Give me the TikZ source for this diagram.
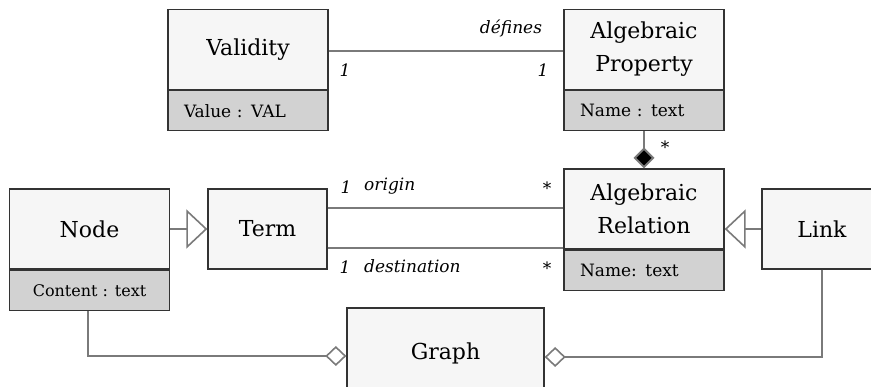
\documentclass[tikz,border=0pt]{standalone}
\usepackage{fontspec}
\setmainfont{DejaVu Serif}
\newfontfamily\boxfont{DejaVu Serif}
\usetikzlibrary{arrows.meta}
\definecolor{boxline}{HTML}{333333}
\definecolor{boxfill}{HTML}{F6F6F6}
\definecolor{attrfill}{HTML}{D2D2D2}
\definecolor{wire}{HTML}{7A7A7A}
\tikzset{
  cls/.style={draw=boxline, line width=1.3pt, fill=boxfill, inner sep=0pt,
    align=center, font=\boxfont\fontsize{22}{33}\selectfont},
  attr/.style={draw=boxline, line width=1.3pt, fill=attrfill, inner sep=0pt,
    minimum height=40pt, font=\boxfont\fontsize{17}{22}\selectfont},
  attrl/.style={attr, text width=128pt, align=left},
  wireline/.style={draw=wire, line width=2pt},
  role/.style={inner sep=0pt, font=\fontsize{17}{20}\selectfont\itshape},
  mult/.style={inner sep=0pt, font=\fontsize{17}{20}\selectfont},
  inherit/.style={wireline, -{Triangle[open, fill=white, length=21pt, width=39pt, line width=1.6pt]}},
  aggr/.style={wireline, -{Diamond[open, fill=white, length=21pt, width=20pt, line width=1.6pt]}},
  compo/.style={wireline, -{Diamond[fill=black, length=21pt, width=21pt]}},
}
\begin{document}
\begin{tikzpicture}[x=1pt, y=-1pt]
\useasboundingbox (0,0) rectangle (871,387);

% class boxes
\node[cls, minimum width=160pt, minimum height=80pt] (val) at (248,49.5) {Validity};
\node[attrl, minimum width=160pt, anchor=north] (valA) at (val.south) {Value : VAL};

\node[cls, minimum width=160pt, minimum height=80pt] (prop) at (644,49.5) {Algebraic\\Property};
\node[attrl, minimum width=160pt, anchor=north] (propA) at (prop.south) {Name : text};

\node[cls, minimum width=160pt, minimum height=80pt] (rel) at (644,209) {Algebraic\\Relation};
\node[attrl, minimum width=160pt, anchor=north] (relA) at (rel.south) {Name: text};

\node[cls, minimum width=160pt, minimum height=80pt] (nd) at (89.5,229) {Node};
\node[attr, minimum width=160pt, anchor=north, font=\boxfont\fontsize{16}{22}\selectfont] (ndA) at (nd.south) {Content : text};

\node[cls, minimum width=119pt, minimum height=80pt] (term) at (267.5,229) {Term};

\node[cls, minimum width=120pt, minimum height=80pt] (link) at (822,229) {Link};

\node[cls, minimum width=197pt, minimum height=90pt] (graph) at (445.5,353) {Graph};

% associations
\draw[wireline] (val.east |- 0,51) -- (prop.west |- 0,51);
\draw[compo] (propA.south) -- (rel.north);
\draw[wireline] ([yshift=-19pt]term.east) -- ([yshift=-19pt]term.east -| rel.west);
\draw[wireline] ([yshift=21pt]term.east) -- ([yshift=21pt]term.east -| rel.west);

% generalisations
\draw[inherit] (nd.east) -- (term.west);
\draw[inherit] (link.west) -- (link.west -| rel.east);

% aggregations into Graph
\draw[aggr] (ndA.south -| 88,0) |- ([yshift=-3pt]graph.west);
\draw[aggr] (link.south) |- ([yshift=-4pt]graph.east);

% role names and multiplicities
\node[role] (lblDef) at (511,28) {défines};
\node[role] (mValA) at (345,70) {1};
\node[role] (mValB) at (543,70) {1};
\node[mult] (mComp) at (665,147) {*};
\node[role] (mOrig) at (346,187) {1};
\node[role, anchor=west] (lblOrig) at (364,186) {origin};
\node[mult] (sOrig) at (547,188) {*};
\node[role] (mDest) at (345,267) {1};
\node[role, anchor=west] (lblDest) at (364,266) {destination};
\node[mult] (sDest) at (547,268) {*};
\end{tikzpicture}
\end{document}
